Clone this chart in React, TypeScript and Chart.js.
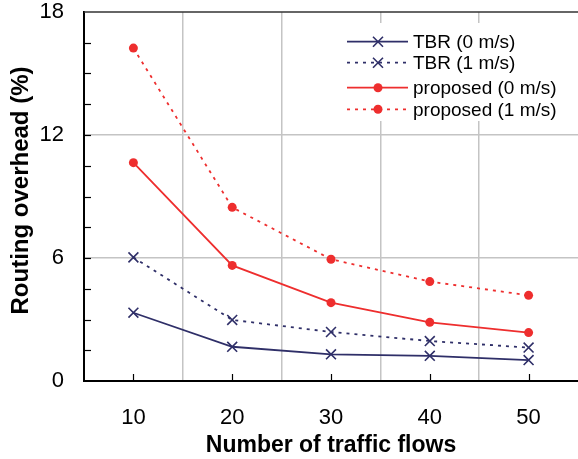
import React, { useEffect, useRef } from 'react';
import { Chart, registerables } from 'chart.js';

Chart.register(...registerables);

const categories = ['10', '20', '30', '40', '50'];
const tbr0 = [3.33, 1.67, 1.3, 1.23, 1.02];
const tbr1 = [6.03, 2.98, 2.39, 1.95, 1.63];
const prop0 = [10.65, 5.64, 3.82, 2.86, 2.36];
const prop1 = [16.24, 8.47, 5.94, 4.85, 4.18];
const seriesNames = ['TBR (0 m/s)', 'TBR (1 m/s)', 'proposed (0 m/s)', 'proposed (1 m/s)'];
const yTickLabels = [0, 6, 12, 18];
const yTitle = 'Routing overhead (%)';
const xTitle = 'Number of traffic flows';

const NAVY = '#2f2f68';
const RED = '#ee2e2e';
const FONT = "'Liberation Sans', Arial, sans-serif";

const decorPlugin = {
  id: 'decor',
  afterDraw(chart: any) {
    const ctx = chart.ctx;
    const { left, right, top, bottom } = chart.chartArea;
    const ys = chart.scales.y;
    const xs = chart.scales.x;
    ctx.save();
    // top border
    ctx.strokeStyle = '#333';
    ctx.lineWidth = 1.5;
    ctx.beginPath();
    ctx.moveTo(left, top);
    ctx.lineTo(right + 2, top);
    ctx.stroke();
    // inward y ticks
    ctx.strokeStyle = '#000';
    ctx.lineWidth = 1.2;
    for (let v = 1.5; v < 18; v += 1.5) {
      const py = Math.round(ys.getPixelForValue(v)) + 0.5;
      ctx.beginPath();
      ctx.moveTo(left, py);
      ctx.lineTo(left + 7, py);
      ctx.stroke();
    }
    // inward x ticks
    for (let i = 0; i < categories.length; i++) {
      const px = Math.round(xs.getPixelForValue(i)) + 0.5;
      ctx.beginPath();
      ctx.moveTo(px, bottom);
      ctx.lineTo(px, bottom - 7);
      ctx.stroke();
    }
    // y title
    ctx.save();
    ctx.translate(21.5, (top + bottom) / 2 - 6);
    ctx.rotate(-Math.PI / 2);
    ctx.fillStyle = '#000';
    ctx.font = `bold 24px ${FONT}`;
    ctx.textAlign = 'center';
    ctx.textBaseline = 'middle';
    ctx.fillText(yTitle, 0, 0);
    ctx.restore();
    // legend
    ctx.fillStyle = '#fff';
    ctx.fillRect(340, 23, 228, 98);
    const rows = [41.7, 62.7, 87.7, 109.3];
    const x0 = 347, x1 = 408, xm = 378;
    chart.data.datasets.forEach((ds: any, i: number) => {
      const y = rows[i];
      ctx.strokeStyle = ds.borderColor;
      ctx.lineWidth = 1.8;
      ctx.setLineDash(ds.borderDash || []);
      ctx.beginPath();
      ctx.moveTo(x0, y);
      ctx.lineTo(x1, y);
      ctx.stroke();
      ctx.setLineDash([]);
      if (ds.pointStyle === 'crossRot') {
        const r = 5;
        ctx.lineWidth = 1.6;
        ctx.beginPath();
        ctx.moveTo(xm - r, y - r);
        ctx.lineTo(xm + r, y + r);
        ctx.moveTo(xm - r, y + r);
        ctx.lineTo(xm + r, y - r);
        ctx.stroke();
      } else {
        ctx.fillStyle = ds.borderColor;
        ctx.beginPath();
        ctx.arc(xm, y, 4.5, 0, Math.PI * 2);
        ctx.fill();
      }
      ctx.fillStyle = '#000';
      ctx.font = `19px ${FONT}`;
      ctx.textBaseline = 'middle';
      ctx.textAlign = 'left';
      ctx.fillText(ds.label, 413, y + 1);
    });
    ctx.restore();
  },
};

export default function App() {
  const ref = useRef<HTMLCanvasElement | null>(null);
  useEffect(() => {
    if (!ref.current) return;
    const mk = (label: string, data: number[], color: string, dashed: boolean, cross: boolean) => ({
      label,
      data,
      borderColor: color,
      backgroundColor: color,
      borderWidth: 1.8,
      borderDash: dashed ? [3, 5] : undefined,
      pointStyle: cross ? 'crossRot' : 'circle',
      pointRadius: cross ? 7 : 4.5,
      pointBorderWidth: cross ? 1.6 : 0,
      pointBackgroundColor: color,
      pointBorderColor: color,
      tension: 0,
    });
    const chart = new Chart(ref.current, {
      type: 'line',
      data: {
        labels: categories,
        datasets: [
          mk(seriesNames[0], tbr0, NAVY, false, true),
          mk(seriesNames[1], tbr1, NAVY, true, true),
          mk(seriesNames[2], prop0, RED, false, false),
          mk(seriesNames[3], prop1, RED, true, false),
        ],
      },
      options: {
        animation: false,
        responsive: true,
        maintainAspectRatio: false,
        layout: { autoPadding: false, padding: { top: 12, right: -1, left: 0, bottom: 0 } },
        plugins: { legend: { display: false }, tooltip: { enabled: false } },
        scales: {
          x: {
            offset: true,
            grid: {
              offset: true,
              drawTicks: false,
              lineWidth: 1.5,
              color: (c: any) => (c.type === 'tick' && c.index > 0 ? '#c4c4c4' : 'rgba(0,0,0,0)'),
            },
            border: { color: '#000', width: 2 },
            ticks: { color: '#000', font: { family: FONT, size: 22 }, padding: 24, maxRotation: 0 },
            title: {
              display: true,
              text: xTitle,
              color: '#000',
              font: { family: FONT, size: 23, weight: 'bold' },
              padding: { top: 0, bottom: 0 },
            },
            afterFit: (s: any) => {
              s.height = 78;
              s.paddingLeft = 0;
              s.paddingRight = 0;
            },
          },
          y: {
            min: 0,
            max: 18,
            grid: {
              drawTicks: false,
              lineWidth: 1.5,
              color: (c: any) => (c.tick && (c.tick.value === 6 || c.tick.value === 12) ? '#c4c4c4' : 'rgba(0,0,0,0)'),
            },
            border: { color: '#000', width: 2 },
            ticks: {
              stepSize: 1.5,
              autoSkip: false,
              color: '#000',
              font: { family: FONT, size: 22 },
              padding: 20,
              callback: (v: any) => (yTickLabels.includes(Number(v)) ? String(v) : ''),
            },
            title: { display: false },
            afterFit: (s: any) => {
              s.width = 84;
              s.paddingTop = 0;
              s.paddingBottom = 0;
            },
          },
        },
      },
      plugins: [decorPlugin],
    });
    return () => chart.destroy();
  }, []);
  return (
    <div style={{ position: 'absolute', left: 0, top: 0, width: 578, height: 459, background: '#fff' }}>
      <canvas ref={ref} />
    </div>
  );
}
